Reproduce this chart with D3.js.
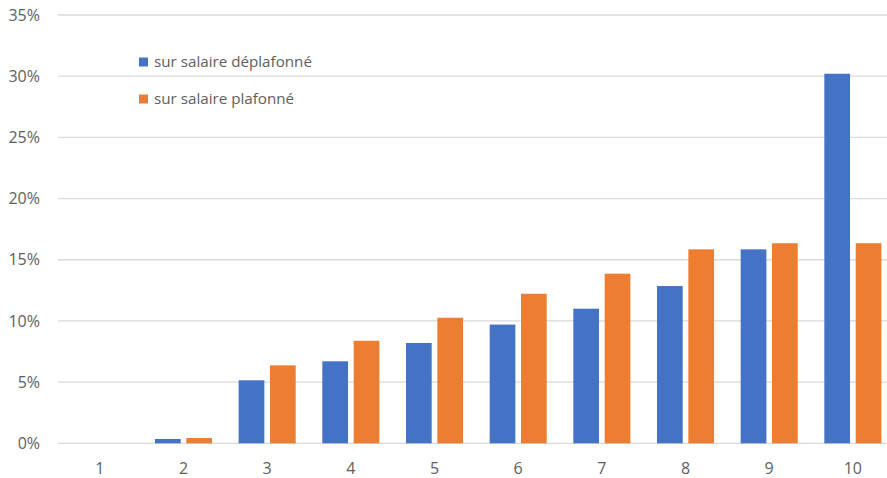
<!DOCTYPE html>
<html>
<head>
<meta charset="utf-8">
<script src="https://cdn.jsdelivr.net/npm/d3@7"></script>
<style>
  html, body { margin: 0; padding: 0; background: #fff; }
  svg { display: block; font-family: "Open Sans", "Lato", sans-serif; }
</style>
</head>
<body>
<svg id="chart" width="887" height="478"></svg>
<script>
// Deciles and rates (in %)
const categories = ["1", "2", "3", "4", "5", "6", "7", "8", "9", "10"];
const seriesNames = ["sur salaire déplafonné", "sur salaire plafonné"];
const deplafonne = [0, 0.35, 5.15, 6.7, 8.2, 9.7, 11.0, 12.85, 15.85, 30.2];
const plafonne   = [0, 0.43, 6.37, 8.38, 10.26, 12.22, 13.86, 15.85, 16.35, 16.35];
const yTicks = [0, 5, 10, 15, 20, 25, 30, 35];
const colors = ["#4472C4", "#ED7D31"];
const textColor = "#606060";
const fontSize = "16px";

const svg = d3.select("#chart");
const W = 887, H = 478;
const plotLeft = 58, plotTop = 15, plotBottom = 443.3;

const x0 = d3.scaleBand()
  .domain(categories)
  .range([plotLeft, 894.7])
  .paddingInner(0.318)
  .paddingOuter(0.159);

const x1 = d3.scaleBand()
  .domain(seriesNames)
  .range([0, x0.bandwidth()])
  .paddingInner(0.18);

const y = d3.scaleLinear().domain([0, 35]).range([plotBottom, plotTop]);

// Horizontal gridlines
svg.append("g")
  .selectAll("line")
  .data(yTicks)
  .join("line")
  .attr("x1", plotLeft)
  .attr("x2", W)
  .attr("y1", d => y(d))
  .attr("y2", d => y(d))
  .attr("stroke", "#d9d9d9")
  .attr("stroke-width", 1.3);

// Y-axis labels
const yAxis = d3.axisLeft(y).tickValues(yTicks).tickFormat(d => d + "%").tickSize(0).tickPadding(0);
svg.append("g")
  .attr("transform", `translate(40,0)`)
  .call(yAxis)
  .call(g => g.select(".domain").remove())
  .call(g => g.selectAll("text")
    .attr("fill", textColor)
    .style("font-size", fontSize)
    .style("font-family", "'Open Sans', sans-serif"));

// Bars
const rows = categories.map((c, i) => ({ cat: c, values: [deplafonne[i], plafonne[i]] }));
svg.append("g")
  .selectAll("g")
  .data(rows)
  .join("g")
  .attr("transform", d => `translate(${x0(d.cat)},0)`)
  .selectAll("rect")
  .data(d => d.values.map((v, j) => ({ name: seriesNames[j], v, j })))
  .join("rect")
  .attr("x", d => x1(d.name))
  .attr("width", x1.bandwidth())
  .attr("y", d => y(d.v))
  .attr("height", d => plotBottom - y(d.v))
  .attr("fill", d => colors[d.j]);

// X-axis labels
const xAxis = d3.axisBottom(x0).tickSize(0).tickPadding(0);
svg.append("g")
  .attr("transform", `translate(0,${plotBottom + 19.5})`)
  .call(xAxis)
  .call(g => g.select(".domain").remove())
  .call(g => g.selectAll("text")
    .attr("fill", textColor)
    .style("font-size", fontSize)
    .style("font-family", "'Open Sans', sans-serif"));

// Legend
const legend = svg.append("g")
  .selectAll("g")
  .data(seriesNames)
  .join("g")
  .attr("transform", (d, i) => `translate(139,${62 + i * 37})`);
legend.append("rect")
  .attr("x", 0).attr("y", -4.5)
  .attr("width", 9).attr("height", 9)
  .attr("fill", (d, i) => colors[i]);
legend.append("text")
  .attr("x", 15)
  .attr("y", 0)
  .attr("dy", "0.35em")
  .attr("fill", textColor)
  .style("font-size", "15.2px")
  .text(d => d);
</script>
</body>
</html>
